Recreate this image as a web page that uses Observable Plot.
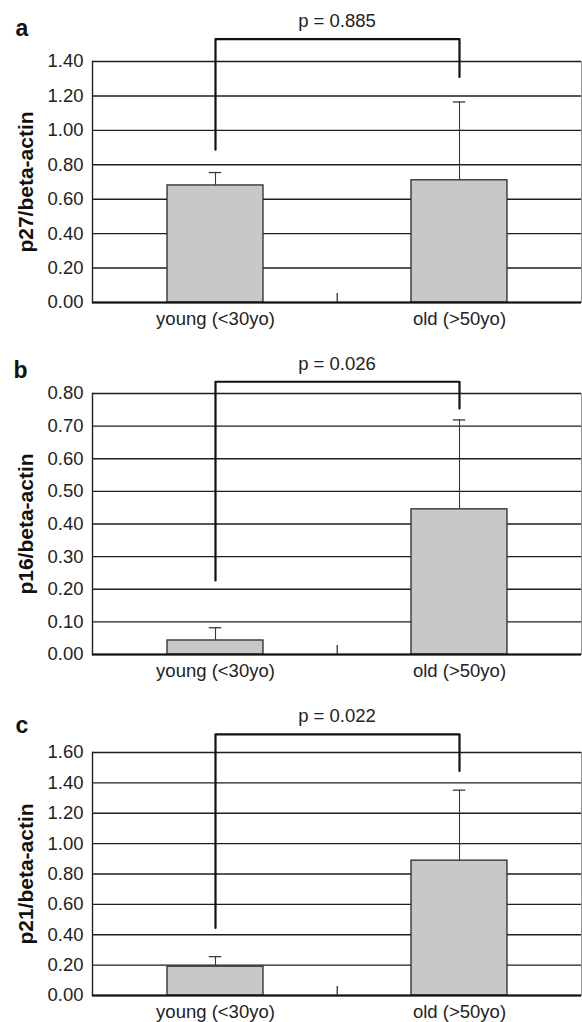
<!DOCTYPE html>
<html>
<head>
<meta charset="utf-8">
<script src="https://cdn.jsdelivr.net/npm/d3@7"></script>
<script src="https://cdn.jsdelivr.net/npm/@observablehq/plot@0.6"></script>
<style>
  html, body { margin: 0; padding: 0; background: #fff; }
  #chart { width: 582px; }
  #chart svg { display: block; }
</style>
</head>
<body>
<div id="chart"></div>
<script>
// ---- data ----
const categories = ["young (<30yo)", "old (>50yo)"];
const panelLetters = ["a", "b", "c"];
const yTitles = ["p27/beta-actin", "p16/beta-actin", "p21/beta-actin"];
const pLabels = ["p = 0.885", "p = 0.026", "p = 0.022"];

const p27Mean = [0.68, 0.71];
const p27Err = [0.075, 0.455];
const p27Ticks = [0, 0.2, 0.4, 0.6, 0.8, 1.0, 1.2, 1.4];
const p27BracketFeet = [0.888, 1.31];
const p27BracketTop = 1.53;

const p16Mean = [0.043, 0.445];
const p16Err = [0.039, 0.274];
const p16Ticks = [0, 0.1, 0.2, 0.3, 0.4, 0.5, 0.6, 0.7, 0.8];
const p16BracketFeet = [0.227, 0.754];
const p16BracketTop = 0.836;

const p21Mean = [0.19, 0.888];
const p21Err = [0.066, 0.464];
const p21Ticks = [0, 0.2, 0.4, 0.6, 0.8, 1.0, 1.2, 1.4, 1.6];
const p21BracketFeet = [0.445, 1.479];
const p21BracketTop = 1.72;

// ---- layout ----
const W = 582, ML = 92, MR = 1;
const FONT = "'Liberation Sans', Arial, Helvetica, sans-serif";
const FS = 18.5;
const layouts = [
  {height: 340, marginTop: 61, marginBottom: 38, letterDx: -77, letterDy: -26},
  {height: 350, marginTop: 53, marginBottom: 36, letterDx: -79, letterDy: -16},
  {height: 332, marginTop: 62, marginBottom: 27, letterDx: -77, letterDy: -20}
];

function panel(i, means, errs, ticks, feet, top) {
  const L = layouts[i];
  const rows = categories.map((c, k) => ({cat: c, mean: means[k], hi: means[k] + errs[k]}));
  const bracket = [
    {cat: categories[0], y: feet[0]},
    {cat: categories[0], y: top},
    {cat: categories[1], y: top},
    {cat: categories[1], y: feet[1]}
  ];
  const frameH = L.height - L.marginTop - L.marginBottom;
  const step = (W - ML - MR) / categories.length;
  const capInset = (step - 13) / 2;
  return Plot.plot({
    width: W,
    height: L.height,
    marginLeft: ML,
    marginRight: MR,
    marginTop: L.marginTop,
    marginBottom: L.marginBottom,
    style: {fontFamily: FONT, fontSize: FS + "px", color: "#222", background: "#fff", overflow: "visible"},
    x: {domain: categories, padding: 0, label: null},
    y: {domain: [0, ticks[ticks.length - 1]], label: null},
    marks: [
      Plot.frame({stroke: "#9a9a9a", strokeWidth: 1}),
      Plot.gridY({ticks: ticks, stroke: "#1e1e1e", strokeOpacity: 1, strokeWidth: 1.4}),
      Plot.frame({anchor: "left", stroke: "#1e1e1e", strokeWidth: 1.4}),
      Plot.barY(rows, {x: "cat", y: "mean", fill: "#c7c8ca", stroke: "#2a2a2a", strokeWidth: 1.3, insetLeft: 74, insetRight: 74}),
      Plot.ruleX(rows, {x: "cat", y1: "mean", y2: "hi", stroke: "#3a3a3a", strokeWidth: 1.1}),
      Plot.tickY(rows, {x: "cat", y: "hi", stroke: "#3a3a3a", strokeWidth: 1.3, insetLeft: capInset, insetRight: capInset}),
      Plot.ruleY([0], {stroke: "#111", strokeWidth: 2}),
      Plot.ruleX([categories[1]], {stroke: "#333", strokeWidth: 1.3, insetTop: frameH - 9, dx: -step / 2}),
      Plot.line(bracket, {x: "cat", y: "y", stroke: "#111", strokeWidth: 2.2}),
      Plot.text([{label: pLabels[i], y: top}], {y: "y", text: "label", dy: -18, lineAnchor: "middle", fontSize: FS, fill: "#222"}),
      Plot.axisY({ticks: ticks, tickFormat: d3.format(".2f"), tickSize: 0, tickPadding: 9, label: null, fontSize: FS, fill: "#222"}),
      Plot.axisX({tickSize: 0, tickPadding: 9, label: null, fontSize: FS, fill: "#222"}),
      Plot.text([yTitles[i]], {frameAnchor: "left", rotate: -90, dx: -74, textAnchor: "middle", lineAnchor: "top", fontWeight: "bold", fontSize: 21, fill: "#111"}),
      Plot.text([panelLetters[i]], {frameAnchor: "top-left", textAnchor: "start", lineAnchor: "bottom", dx: L.letterDx, dy: L.letterDy, fontWeight: "bold", fontSize: 23, fill: "#111"})
    ]
  });
}

const chart = document.getElementById("chart");
chart.append(panel(0, p27Mean, p27Err, p27Ticks, p27BracketFeet, p27BracketTop));
chart.append(panel(1, p16Mean, p16Err, p16Ticks, p16BracketFeet, p16BracketTop));
chart.append(panel(2, p21Mean, p21Err, p21Ticks, p21BracketFeet, p21BracketTop));
</script>
</body>
</html>
